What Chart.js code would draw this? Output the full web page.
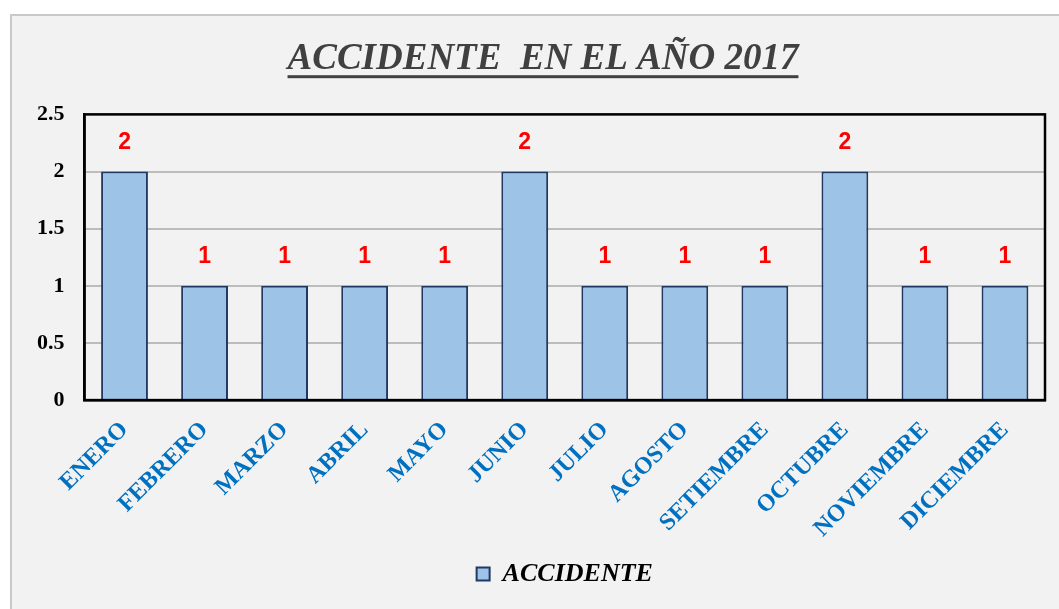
<!DOCTYPE html>
<html>
<head>
<meta charset="utf-8">
<script src="https://cdn.jsdelivr.net/npm/chart.js@4.4.1/dist/chart.umd.min.js"></script>
<style>
  html, body { margin: 0; padding: 0; background: #fff; overflow: hidden; }
  #wrap {
    position: absolute; left: 10px; top: 14px;
    width: 1062px; height: 596px;
    background: #f2f2f2;
    border-left: 2px solid #c9c9c9;
    border-top: 2px solid #c9c9c9;
  }
</style>
</head>
<body>
<div id="wrap"><canvas id="grafico" width="1062" height="596"></canvas></div>
<script>
const meses = ['ENERO', 'FEBRERO', 'MARZO', 'ABRIL', 'MAYO', 'JUNIO', 'JULIO',
  'AGOSTO', 'SETIEMBRE', 'OCTUBRE', 'NOVIEMBRE', 'DICIEMBRE'];
const accidentes = [2, 1, 1, 1, 1, 2, 1, 1, 1, 2, 1, 1];
const ticksY = [0, 0.5, 1, 1.5, 2, 2.5];
const tituloTexto = 'ACCIDENTE  EN EL AÑO 2017';
const serieNombre = 'ACCIDENTE';

// subrayado del titulo
const subrayado = {
  id: 'subrayado',
  afterDraw(chart) {
    const tb = chart.titleBlock;
    const o = tb.options;
    const ctx = chart.ctx;
    ctx.save();
    ctx.font = 'italic bold 37px "Liberation Serif"';
    const w = ctx.measureText(tituloTexto).width;
    const cx = (tb.left + tb.right) / 2;
    const y = tb.top + o.padding.top + 37 * 1.2 / 2 + 16;
    ctx.fillStyle = '#404040';
    ctx.fillRect(cx - w / 2, y, w, 3);
    ctx.restore();
  }
};

// borde negro del area de trazado
const bordeArea = {
  id: 'bordeArea',
  afterDatasetsDraw(chart) {
    const a = chart.chartArea;
    const ctx = chart.ctx;
    ctx.save();
    ctx.strokeStyle = '#000';
    ctx.lineWidth = 2.5;
    ctx.strokeRect(a.left, a.top, a.right - a.left, a.bottom - a.top);
    ctx.restore();
  }
};

// etiquetas de valores en rojo
const etiquetas = {
  id: 'etiquetas',
  afterDatasetsDraw(chart) {
    const ctx = chart.ctx;
    const meta = chart.getDatasetMeta(0);
    ctx.save();
    ctx.font = 'bold 23px "Liberation Sans"';
    ctx.fillStyle = '#ff0000';
    ctx.textAlign = 'center';
    ctx.textBaseline = 'middle';
    meta.data.forEach((bar, i) => {
      ctx.fillText(String(accidentes[i]), bar.x, bar.y - 29);
    });
    ctx.restore();
  }
};

const ctx = document.getElementById('grafico').getContext('2d');
new Chart(ctx, {
  type: 'bar',
  data: {
    labels: meses,
    datasets: [{
      label: serieNombre,
      data: accidentes,
      backgroundColor: '#9dc3e6',
      borderColor: '#1f3864',
      borderWidth: 2,
      barPercentage: 0.585,
      categoryPercentage: 1
    }]
  },
  options: {
    responsive: false,
    animation: false,
    layout: { padding: { left: 5, right: 5, top: 0, bottom: 15 } },
    plugins: {
      title: {
        display: true,
        text: tituloTexto,
        color: '#404040',
        font: { family: '"Liberation Serif"', size: 37, style: 'italic', weight: 'bold' },
        padding: { top: 21, bottom: 33 }
      },
      legend: {
        position: 'bottom',
        fullSize: false,
        labels: {
          color: '#000',
          boxWidth: 13,
          boxHeight: 13,
          padding: 2,
          font: { family: '"Liberation Serif"', size: 26, style: 'italic', weight: 'bold' }
        }
      },
      tooltip: { enabled: false }
    },
    scales: {
      x: {
        grid: { display: false, drawTicks: false },
        border: { color: '#000', width: 2.5 },
        ticks: {
          color: '#0070c0',
          minRotation: 45,
          maxRotation: 45,
          padding: 16,
          font: { family: '"Liberation Serif"', size: 24, weight: 'bold' }
        }
      },
      y: {
        min: ticksY[0],
        max: ticksY[ticksY.length - 1],
        grid: { color: '#bcbcbc', lineWidth: 2, drawTicks: false },
        border: { color: '#000', width: 2.5 },
        afterBuildTicks(axis) {
          axis.ticks = ticksY.map(v => ({ value: v }));
        },
        ticks: {
          color: '#000',
          padding: 20,
          callback: v => String(v),
          font: { family: '"Liberation Serif"', size: 22, weight: 'bold' }
        }
      },
      margenDer: {
        type: 'linear',
        position: 'right',
        grid: { display: false, drawTicks: false },
        border: { display: false },
        ticks: { display: false },
        afterFit(axis) { axis.width = 24; }
      }
    }
  },
  plugins: [subrayado, bordeArea, etiquetas]
});
</script>
</body>
</html>
